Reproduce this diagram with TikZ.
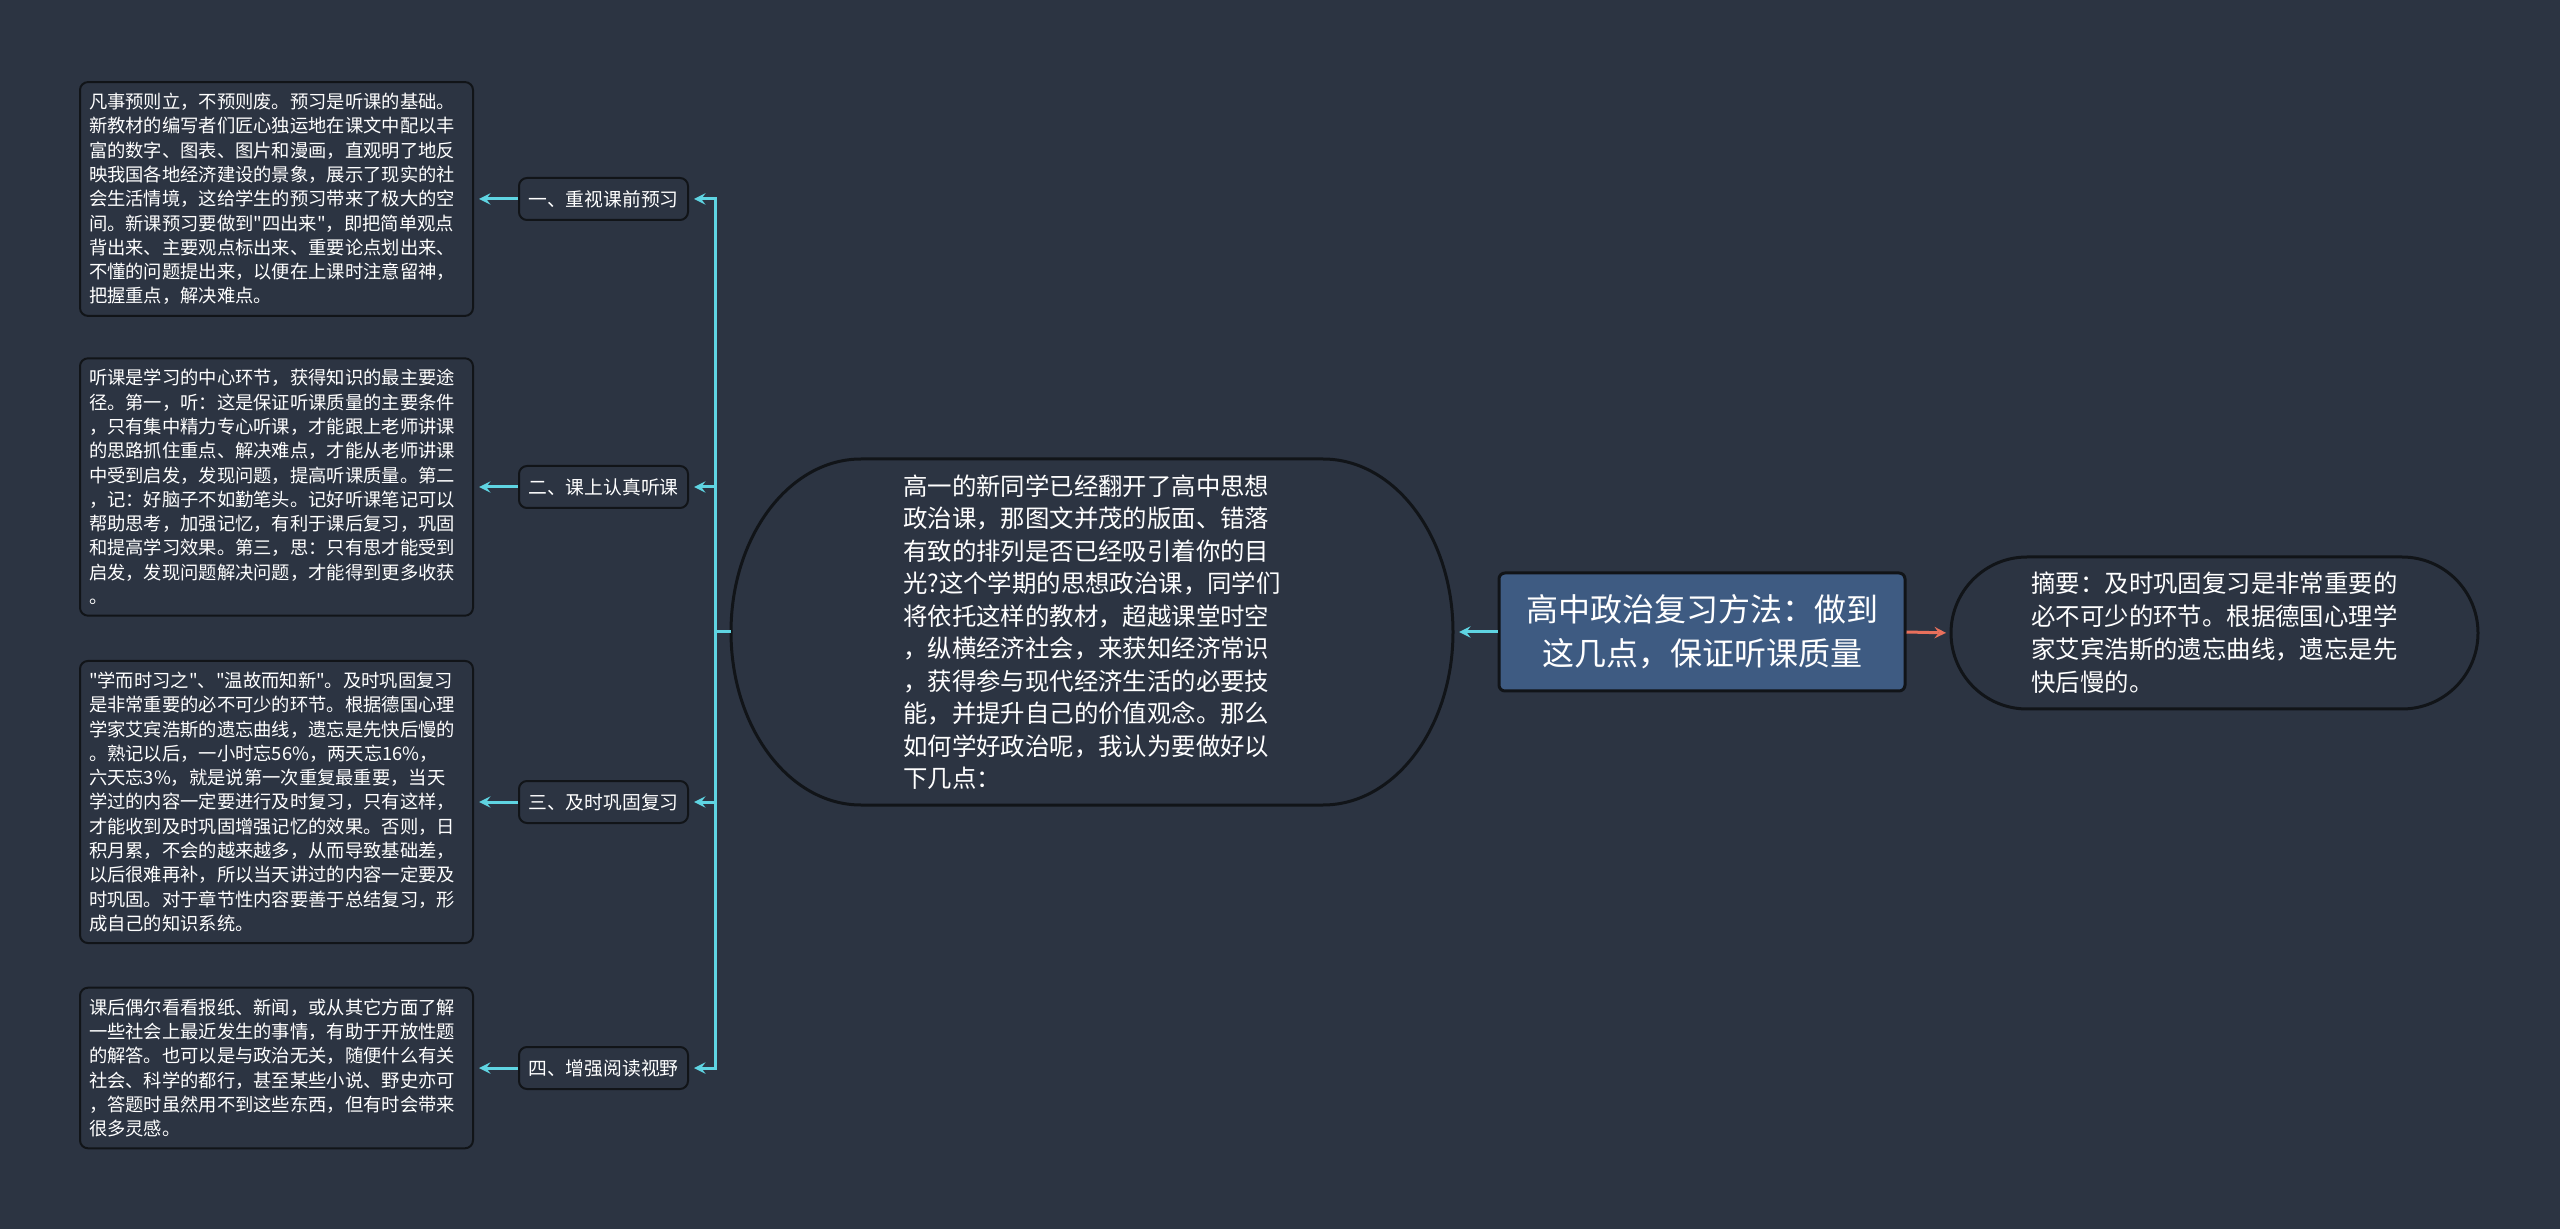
\documentclass[tikz,border=0pt]{standalone}
\usepackage{fontspec}
\newfontfamily\cjk{Noto Sans CJK SC}
\usepackage{xcolor}
\usetikzlibrary{positioning}

\definecolor{bgcol}{HTML}{2C3442}
\definecolor{rootcol}{HTML}{3E5B82}
\definecolor{linecol}{HTML}{5FD4E2}
\definecolor{redcol}{HTML}{E9705C}
\definecolor{edgecol}{HTML}{111418}

\begin{document}
\cjk
\begin{tikzpicture}[x=0.5pt, y=-0.5pt,
		leaf/.style={draw=edgecol, line width=1pt, rounded corners=4pt, fill=bgcol, text=white,
			align=left, text width=187.5pt, inner xsep=4.5pt, inner ysep=5.5pt,
			font=\cjk\fontsize{9.15pt}{12.15pt}\selectfont},
		topic/.style={draw=edgecol, line width=1pt, rounded corners=4pt, fill=bgcol, text=white,
			minimum width=84.5pt, minimum height=21pt, inner sep=2pt,
			font=\cjk\fontsize{9.4pt}{11pt}\selectfont},
		bubble/.style={text=white, align=left, outer sep=0pt, inner sep=0pt},
		link/.style={linecol, line width=1.5pt}]
		\fill[bgcol] (0,0) rectangle (2560,1229);
		\useasboundingbox (0,0) rectangle (2560,1229);
		
		% main topic and its two neighbours
		\node[draw=edgecol, line width=1.5pt, rounded corners=3pt, fill=rootcol, text=white,
			minimum width=203pt, minimum height=59pt, align=center,
			font=\cjk\fontsize{16pt}{22pt}\selectfont] (root) at (1702,632)
			{高中政治复习方法：做到\\这几点，保证听课质量};
		
		\node[bubble, minimum width=361pt, minimum height=173pt,
			font=\cjk\fontsize{12.2pt}{16.25pt}\selectfont] (intro) at (1092,632)
			{高一的新同学已经翻开了高中思想\\
			政治课，那图文并茂的版面、错落\\
			有致的排列是否已经吸引着你的目\\
			光?这个学期的思想政治课，同学们\\
			将依托这样的教材，超越课堂时空\\
			，纵横经济社会，来获知经济常识\\
			，获得参与现代经济生活的必要技\\
			能，并提升自己的价值观念。那么\\
			如何学好政治呢，我认为要做好以\\
			下几点：};
		\draw[edgecol, line width=1.5pt] ([xshift=65pt]intro.north west) -- ([xshift=-65pt]intro.north east)
			arc[start angle=90, end angle=-90, x radius=65pt, y radius=86.5pt]
			-- ([xshift=65pt]intro.south west)
			arc[start angle=270, end angle=90, x radius=65pt, y radius=86.5pt] -- cycle;
		
		\node[bubble, minimum width=263.5pt, minimum height=76pt,
			font=\cjk\fontsize{12.2pt}{16.5pt}\selectfont] (summary) at (2214.5,633)
			{摘要：及时巩固复习是非常重要的\\
			必不可少的环节。根据德国心理学\\
			家艾宾浩斯的遗忘曲线，遗忘是先\\
			快后慢的。};
		\draw[edgecol, line width=1.5pt] ([xshift=38pt]summary.north west) -- ([xshift=-38pt]summary.north east)
			arc[start angle=90, end angle=-90, x radius=38pt, y radius=38pt]
			-- ([xshift=38pt]summary.south west)
			arc[start angle=270, end angle=90, x radius=38pt, y radius=38pt] -- cycle;
		
		% the four points
		\node[topic] (cat1) at (603.5,199) {一、重视课前预习};
		\node[topic] (cat2) at (603.5,487) {二、课上认真听课};
		\node[topic] (cat3) at (603.5,802) {三、及时巩固复习};
		\node[topic] (cat4) at (603.5,1068) {四、增强阅读视野};
		
		\node[leaf, left=22pt of cat1] (leaf1)
			{凡事预则立，不预则废。预习是听课的基础。\\
			新教材的编写者们匠心独运地在课文中配以丰\\
			富的数字、图表、图片和漫画，直观明了地反\\
			映我国各地经济建设的景象，展示了现实的社\\
			会生活情境，这给学生的预习带来了极大的空\\
			间。新课预习要做到"四出来"，即把简单观点\\
			背出来、主要观点标出来、重要论点划出来、\\
			不懂的问题提出来，以便在上课时注意留神，\\
			把握重点，解决难点。};
		\node[leaf, left=22pt of cat2] (leaf2)
			{听课是学习的中心环节，获得知识的最主要途\\
			径。第一，听：这是保证听课质量的主要条件\\
			，只有集中精力专心听课，才能跟上老师讲课\\
			的思路抓住重点、解决难点，才能从老师讲课\\
			中受到启发，发现问题，提高听课质量。第二\\
			，记：好脑子不如勤笔头。记好听课笔记可以\\
			帮助思考，加强记忆，有利于课后复习，巩固\\
			和提高学习效果。第三，思：只有思才能受到\\
			启发，发现问题解决问题，才能得到更多收获\\
			。};
		\node[leaf, left=22pt of cat3] (leaf3)
			{"学而时习之"、"温故而知新"。及时巩固复习\\
			是非常重要的必不可少的环节。根据德国心理\\
			学家艾宾浩斯的遗忘曲线，遗忘是先快后慢的\\
			。熟记以后，一小时忘56\%，两天忘16\%，\\
			六天忘3\%，就是说第一次重复最重要，当天\\
			学过的内容一定要进行及时复习，只有这样，\\
			才能收到及时巩固增强记忆的效果。否则，日\\
			积月累，不会的越来越多，从而导致基础差，\\
			以后很难再补，所以当天讲过的内容一定要及\\
			时巩固。对于章节性内容要善于总结复习，形\\
			成自己的知识系统。};
		\node[leaf, left=22pt of cat4] (leaf4)
			{课后偶尔看看报纸、新闻，或从其它方面了解\\
			一些社会上最近发生的事情，有助于开放性题\\
			的解答。也可以是与政治无关，随便什么有关\\
			社会、科学的都行，甚至某些小说、野史亦可\\
			，答题时虽然用不到这些东西，但有时会带来\\
			很多灵感。};
		
		\coordinate (trunk) at (715,632);
		
		\draw[link] (intro.west) -- (trunk);
		\begin{scope}[-stealth]
			\draw[link, shorten >=3pt] (root.west) -- (intro.east);
			\draw[redcol, line width=1.5pt, shorten >=2.5pt] (root.east) -- (summary.west);
			\foreach \i in {1,...,4} {
				\draw[link, shorten >=2.5pt] (trunk) |- (cat\i.east);
				\draw[link, shorten >=2.5pt] (cat\i.west) -- (leaf\i.east);
			}
		\end{scope}
	\end{tikzpicture}
\end{document}
